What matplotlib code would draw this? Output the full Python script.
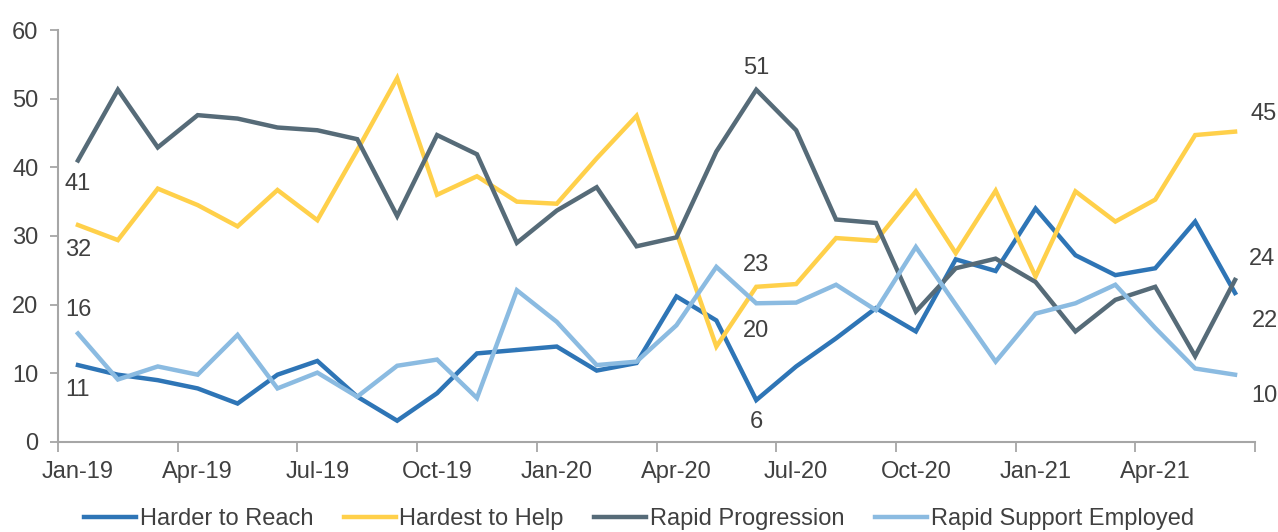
import numpy as np
from matplotlib import pyplot as plt

plt.rcParams['font.family'] = ['Liberation Sans', 'DejaVu Sans']

months = ['Jan-19', 'Feb-19', 'Mar-19', 'Apr-19', 'May-19', 'Jun-19', 'Jul-19', 'Aug-19', 'Sep-19',
          'Oct-19', 'Nov-19', 'Dec-19', 'Jan-20', 'Feb-20', 'Mar-20', 'Apr-20', 'May-20', 'Jun-20',
          'Jul-20', 'Aug-20', 'Sep-20', 'Oct-20', 'Nov-20', 'Dec-20', 'Jan-21', 'Feb-21', 'Mar-21',
          'Apr-21', 'May-21', 'Jun-21']

harder_to_reach = [11.2, 9.8, 9.0, 7.8, 5.6, 9.8, 11.8, 6.6, 3.1, 7.1, 12.9, 13.4, 13.9, 10.4, 11.5,
                   21.2, 17.7, 6.1, 11.0, 15.1, 19.5, 16.1, 26.6, 24.9, 34.0, 27.2, 24.3, 25.3, 32.1, 21.7]
hardest_to_help = [31.6, 29.4, 36.9, 34.5, 31.4, 36.7, 32.3, 42.5, 53.0, 36.0, 38.7, 35.0, 34.7, 41.3, 47.5,
                   30.5, 13.9, 22.6, 23.0, 29.7, 29.3, 36.5, 27.5, 36.6, 24.1, 36.5, 32.1, 35.3, 44.7, 45.2]
rapid_progression = [41.0, 51.3, 42.9, 47.6, 47.1, 45.8, 45.4, 44.1, 32.9, 44.7, 41.9, 29.0, 33.7, 37.1, 28.5,
                     29.8, 42.3, 51.3, 45.4, 32.4, 31.9, 19.0, 25.3, 26.7, 23.3, 16.1, 20.7, 22.6, 12.5, 23.6]
rapid_support = [15.8, 9.1, 11.0, 9.8, 15.6, 7.8, 10.1, 6.6, 11.1, 12.0, 6.4, 22.1, 17.5, 11.2, 11.7,
                 17.0, 25.5, 20.2, 20.3, 22.9, 19.2, 28.4, 20.0, 11.7, 18.7, 20.2, 22.9, 16.6, 10.7, 9.8]

series = [('Harder to Reach', harder_to_reach, '#2E75B6'),
          ('Hardest to Help', hardest_to_help, '#FFD04A'),
          ('Rapid Progression', rapid_progression, '#566B78'),
          ('Rapid Support Employed', rapid_support, '#8BBBE1')]

text_col = '#404040'
axis_col = '#A6A6A6'
fs = 17

fig = plt.figure(figsize=(12.78, 5.32), dpi=100)
ax = fig.add_axes([0.0454, 0.1692, 0.9366, 0.7744])
x = np.arange(len(months))
for name, vals, col in series:
    ax.plot(x, vals, color=col, lw=3.2, label=name, solid_joinstyle='miter')

# data labels: first point, Jun-20 and last point
def lab(i, vals, dy, dx=0, ha='center'):
    ax.annotate(f'{vals[i]:.0f}', (x[i], vals[i]), xytext=(dx, dy), textcoords='offset points',
                ha=ha, va='center', fontsize=fs, color=text_col)

lab(0, rapid_progression, -17)
lab(0, hardest_to_help, -18)
lab(0, rapid_support, 17)
lab(0, harder_to_reach, -18)
lab(17, rapid_progression, 16)
lab(17, hardest_to_help, 16)
lab(17, rapid_support, -20)
lab(17, harder_to_reach, -16)
lab(29, hardest_to_help, 13, 11, 'left')
lab(29, rapid_progression, 15, 10, 'left')
lab(29, harder_to_reach, -20, 12, 'left')
lab(29, rapid_support, -15, 12, 'left')

ax.set_xlim(-0.5, len(months) - 0.5)
ax.set_ylim(0, 60)
ax.set_yticks(range(0, 61, 10))
ax.set_xticks(x[::3])
ax.set_xticklabels(months[::3])
ax.set_xticks(np.arange(-0.5, len(months), 3), minor=True)
ax.tick_params(axis='x', which='major', length=0, pad=14, labelsize=fs, labelcolor=text_col)
ax.tick_params(axis='x', which='minor', length=7, width=1.3, color=axis_col)
ax.tick_params(axis='y', length=6, width=1.3, color=axis_col, pad=8, labelsize=fs, labelcolor=text_col)

for s in ['top', 'right']:
    ax.spines[s].set_visible(False)
for s in ['left', 'bottom']:
    ax.spines[s].set_color(axis_col)
    ax.spines[s].set_linewidth(1.5)

fig.legend(loc='center', bbox_to_anchor=(0.5, 0.024), ncol=4, frameon=False, fontsize=fs,
           labelcolor=text_col, handlelength=2.2, handletextpad=0.15, columnspacing=1.3)

fig.savefig('out.png', dpi=100)
